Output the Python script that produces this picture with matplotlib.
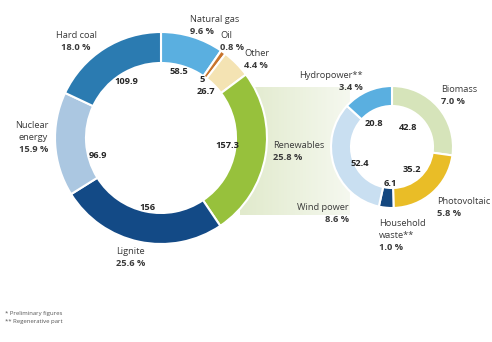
"""
Gross electricity generation by energy source - two linked donut charts.
"""

import numpy as np
import matplotlib.pyplot as plt
from matplotlib.colors import LinearSegmentedColormap

plt.rcParams['font.family'] = ['Open Sans', 'DejaVu Sans']

# main donut, clockwise from the top
main_labels = ['Natural gas', 'Oil', 'Other', 'Renewables', 'Lignite', 'Nuclear\nenergy', 'Hard coal']
main_values = [58.5, 5, 26.7, 157.3, 156, 96.9, 109.9]
main_shares = ['9.6 %', '0.8 %', '4.4 %', '25.8 %', '25.6 %', '15.9 %', '18.0 %']
main_colors = ['#5aafe0', '#c8742c', '#f4e3b3', '#97c13c', '#134a86', '#abc7e1', '#2b7bb1']

# renewables breakdown, clockwise from the top
ren_labels = ['Biomass', 'Photovoltaic', 'Household\nwaste**', 'Wind power', 'Hydropower**']
ren_values = [42.8, 35.2, 6.1, 52.4, 20.8]
ren_shares = ['7.0 %', '5.8 %', '1.0 %', '8.6 %', '3.4 %']
ren_colors = ['#d6e4ba', '#e9bd27', '#14477f', '#c9dff1', '#5aafe0']

footnotes = ['* Preliminary figures', '** Regenerative part']

W, H = 492, 342

# layout in pixel coordinates (y measured from top)
main_center, main_r, main_w = (161, 138), 106, 31
ren_center, ren_r, ren_w = (392, 147), 61, 20

main_label_pos = [(190, 25, 'left'), (220, 41, 'left'), (244, 59, 'left'), (273, 151, 'left'),
                  (116, 257, 'left'), (48, 138, 'right'), (76, 42, 'center')]
main_value_pos = [(179, 71), (202, 79), (206, 91), (227, 145), (147, 207), (98, 155), (126, 82)]
ren_label_pos = [(441, 96, 'left'), (437, 208, 'left'), (379, 235, 'left'),
                 (349, 213, 'right'), (363, 81, 'right')]
ren_value_pos = [(408, 128), (412, 170), (390, 183), (360, 163), (374, 124)]

fig = plt.figure(figsize=(W / 100, H / 100), dpi=100)
ax = fig.add_axes([0, 0, 1, 1])


def fy(y):
    return H - y


# connecting band behind the donuts
band = LinearSegmentedColormap.from_list('band', ['#e1eacc', '#f5f8ef'])
ax.imshow(np.linspace(0, 1, 100).reshape(1, -1), cmap=band, aspect='auto',
          extent=(240, 350, fy(215), fy(87)), zorder=0)

ax.pie(main_values, colors=main_colors, startangle=90, counterclock=False,
       center=(main_center[0], fy(main_center[1])), radius=main_r, frame=True,
       wedgeprops=dict(width=main_w, edgecolor='white', linewidth=1.5))
ax.pie(ren_values, colors=ren_colors, startangle=90, counterclock=False,
       center=(ren_center[0], fy(ren_center[1])), radius=ren_r, frame=True,
       wedgeprops=dict(width=ren_w, edgecolor='white', linewidth=1.5))

# pie() resets limits when frame=True, set them again
ax.set_xlim(0, W)
ax.set_ylim(0, H)
ax.set_aspect('equal')
ax.axis('off')

txt = dict(fontsize=6.7, color='#3a3a3a', va='center')
num = dict(fontsize=6.7, color='#262626', fontweight='bold', ha='center', va='center')


def put_label(x, y, ha, name, share):
    lines = name.split('\n')
    n = len(lines) + 1
    step = 12
    top = y - step * (n - 1) / 2
    for i, line in enumerate(lines):
        ax.text(x, fy(top + i * step), line, ha=ha, **txt)
    ax.text(x, fy(top + len(lines) * step), share, ha=ha, fontweight='bold', **txt)


for (x, y, ha), name, share in zip(main_label_pos, main_labels, main_shares):
    put_label(x, y, ha, name, share)
for (x, y), v in zip(main_value_pos, main_values):
    ax.text(x, fy(y), f'{v:g}', **num)

for (x, y, ha), name, share in zip(ren_label_pos, ren_labels, ren_shares):
    put_label(x, y, ha, name, share)
for (x, y), v in zip(ren_value_pos, ren_values):
    ax.text(x, fy(y), f'{v:g}', **num)

for i, note in enumerate(footnotes):
    ax.text(5, fy(313 + i * 9), note, fontsize=4.3, color='#555555', ha='left', va='center')

plt.savefig('out.png', dpi=100)
plt.close()
